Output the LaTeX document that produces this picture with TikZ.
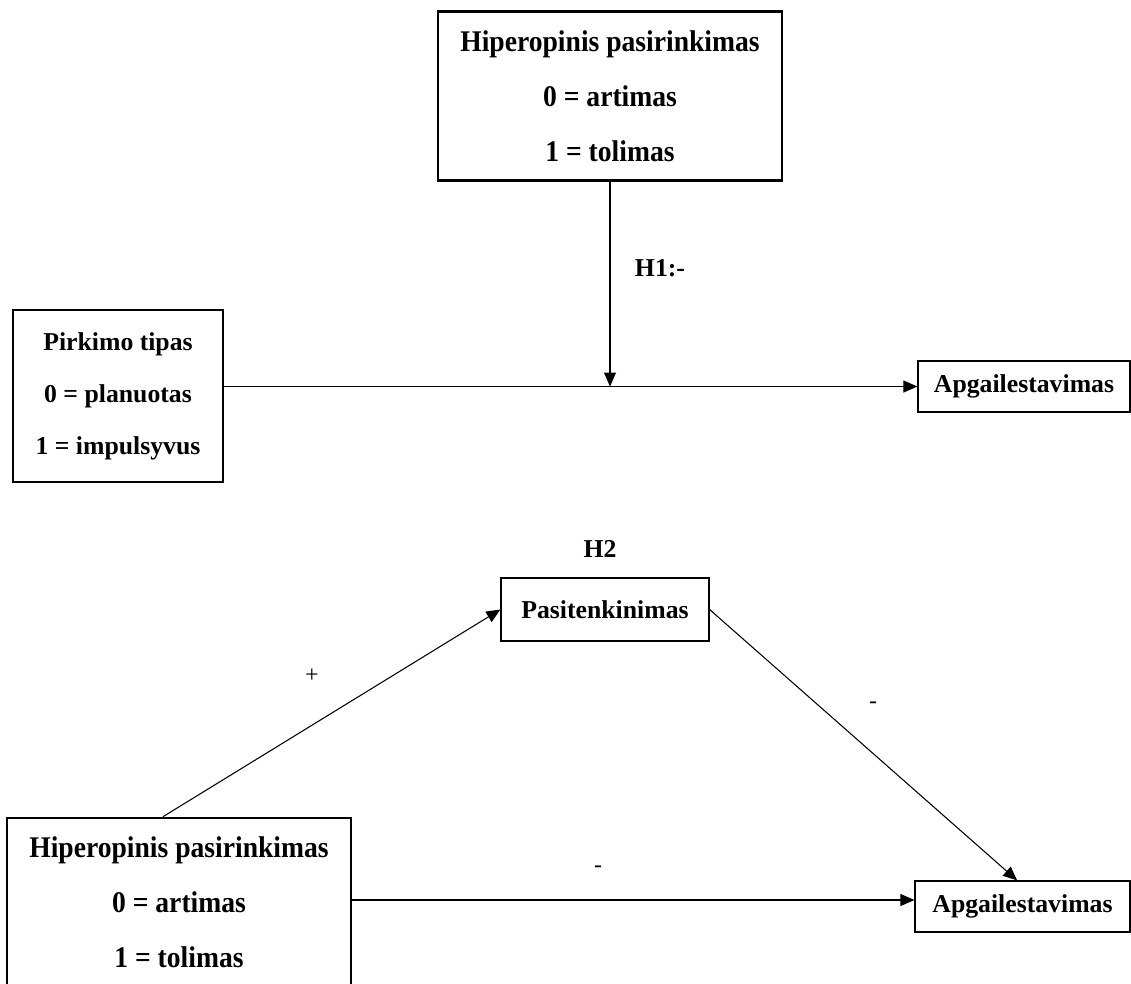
\documentclass[tikz,border=0pt]{standalone}
\usepackage{fontspec}
\setmainfont{Liberation Serif}
\newfontfamily\narrowserif[FakeStretch=0.92]{Liberation Serif}
\usetikzlibrary{arrows.meta}
\begin{document}
\begin{tikzpicture}[x=0.75pt,y=-0.75pt,
  box/.style={draw, line width=0.9pt, inner sep=0pt, align=center,
    font=\fontsize{19.3}{39}\selectfont\bfseries},
  bigbox/.style={draw, line width=2pt, inner sep=0pt, align=center,
    minimum width=258pt, minimum height=126.75pt,
    font=\narrowserif\fontsize{22.5}{41.25}\selectfont\bfseries},
  conn/.style={line width=0.8pt, -{Triangle[length=10.5pt,width=9pt]}},
  sign/.style={font=\fontsize{18}{20}\selectfont},
  hyp/.style={font=\fontsize{19.3}{20}\selectfont\bfseries}]
\useasboundingbox (0,0) rectangle (1131,983);
\clip (0,0) rectangle (1131,983);

% model 1: moderation
\node[bigbox] (hp1) at (610,96) {Hiperopinis pasirinkimas\\0 = artimas\\1 = tolimas};
\node[box, minimum width=157.5pt, minimum height=129pt] (pir) at (118,396)
  {Pirkimo tipas\\0 = planuotas\\1 = impulsyvus};
\node[box, minimum width=159pt, minimum height=38.25pt] (ap1) at (1024,386.5) {Apgailestavimas};
\coordinate (m) at (hp1.south |- ap1.west);
\draw[conn] (pir.east |- ap1.west) -- (ap1.west);
\draw[conn] (hp1.south) -- (m);
\node[hyp] (h1) at (660,268) {H1:-};

% model 2: mediation
\node[hyp] (h2) at (600,549) {H2};
\node[box, minimum width=156pt, minimum height=47.25pt] (pas) at (605,609.5) {Pasitenkinimas};
\node[bigbox] (hp2) at (179,902.5) {Hiperopinis pasirinkimas\\0 = artimas\\1 = tolimas};
\node[box, minimum width=161.25pt, minimum height=38.25pt] (ap2) at (1022.5,906.5) {Apgailestavimas};
\coordinate (s) at ([xshift=-12pt]hp2.north);
\draw[conn] (s) -- (pas.west);
\draw[conn] (pas.east) -- ([xshift=-4pt]ap2.north);
\draw[conn] (hp2.east |- 0,900) -- (ap2.west |- 0,900);
\node[sign] (plus) at (312,676) {+};
\node[sign] (minusa) at (873,705) {-};
\node[sign] (minusb) at (598,869) {-};
\end{tikzpicture}
\end{document}
